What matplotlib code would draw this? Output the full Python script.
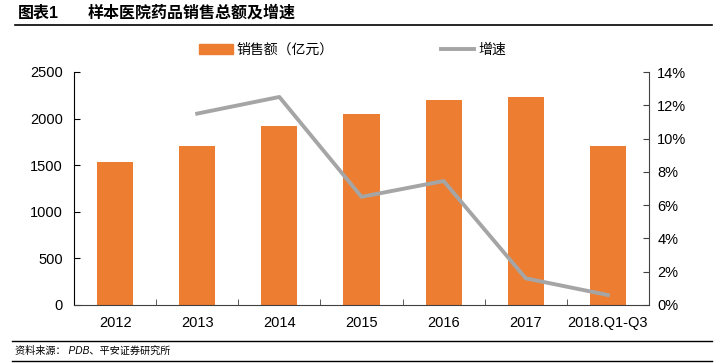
import numpy as np
import matplotlib.pyplot as plt
from matplotlib.lines import Line2D
from matplotlib.patches import Patch
from matplotlib.ticker import FuncFormatter

plt.rcParams["font.family"] = ["Liberation Sans", "Noto Sans CJK SC", "DejaVu Sans"]

years = ["2012", "2013", "2014", "2015", "2016", "2017", "2018.Q1-Q3"]
sales = [1534, 1706, 1921, 2049, 2200, 2232, 1706]
growth_years = ["2013", "2014", "2015", "2016", "2017", "2018.Q1-Q3"]
growth = [11.5, 12.5, 6.5, 7.45, 1.6, 0.6]

orange = "#ED7D31"
gray = "#A5A5A5"

fig = plt.figure(figsize=(7.2, 3.63), dpi=100)
ax = fig.add_axes([74 / 720, 1 - 305 / 363, 575 / 720, 233 / 363])
x = np.arange(len(years))
ax.bar(x, sales, width=0.44, color=orange, zorder=2)
ax.set_xlim(-0.5, len(years) - 0.5)
ax.set_ylim(0, 2500)
ax.set_yticks(np.arange(0, 2501, 500))
ax.set_xticks(x)
ax.set_xticklabels(years)
ax.set_xticks(np.arange(-0.5, len(years)), minor=True)
ax.tick_params(axis="x", which="major", length=0, pad=8, labelsize=10.5)
ax.tick_params(axis="x", which="minor", direction="in", length=4, color="#404040")
ax.tick_params(axis="y", direction="in", length=4, labelsize=10.5, pad=8)
ax.spines["top"].set_visible(False)
ax.spines["left"].set_color("black")
ax.spines["bottom"].set_color("#404040")
ax.spines["right"].set_visible(False)

ax2 = ax.twinx()
gx = [years.index(y) for y in growth_years]
ax2.plot(gx, growth, color=gray, linewidth=2.8, zorder=3)
ax2.set_ylim(0, 14)
ax2.set_yticks(np.arange(0, 15, 2))
ax2.yaxis.set_major_formatter(FuncFormatter(lambda v, p: f"{v:.0f}%"))
ax2.tick_params(axis="y", direction="in", length=4, labelsize=10.5, pad=6, color="#404040")
for s in ["top", "left", "bottom"]:
    ax2.spines[s].set_visible(False)
ax2.spines["right"].set_color("#404040")

handles = [Patch(color=orange), Line2D([0], [0], color=gray, linewidth=2.8)]
fig.legend(handles, ["销售额（亿元）", "增速"], loc="center", bbox_to_anchor=(0.49, 0.862),
           ncol=2, frameon=False, fontsize=10, handlelength=2.4, handletextpad=0.3,
           columnspacing=7.7)

title_y = 1 - 13 / 363
fig.text(18 / 720, title_y, "图表1", fontsize=11.5, fontweight="bold", va="center",
         family=["Liberation Sans", "Noto Sans CJK SC"])
fig.text(88 / 720, title_y, "样本医院药品销售总额及增速", fontsize=11.5, fontweight="bold",
         va="center", family=["Noto Sans CJK SC", "DejaVu Sans"])
fig.add_artist(Line2D([15 / 720, 712 / 720], [1 - 25 / 363] * 2, color="black", linewidth=1.2))
fig.add_artist(Line2D([12 / 720, 712 / 720], [1 - 341 / 363] * 2, color="black", linewidth=1))
fig.add_artist(Line2D([12 / 720, 712 / 720], [1 - 361 / 363] * 2, color="black", linewidth=1))
fig.text(15 / 720, 1 - 351 / 363, "资料来源： PDB、平安证券研究所", fontsize=7.3, style="italic",
         va="center", family=["Liberation Sans", "Noto Sans CJK SC"])

fig.savefig("out.png", dpi=100)
